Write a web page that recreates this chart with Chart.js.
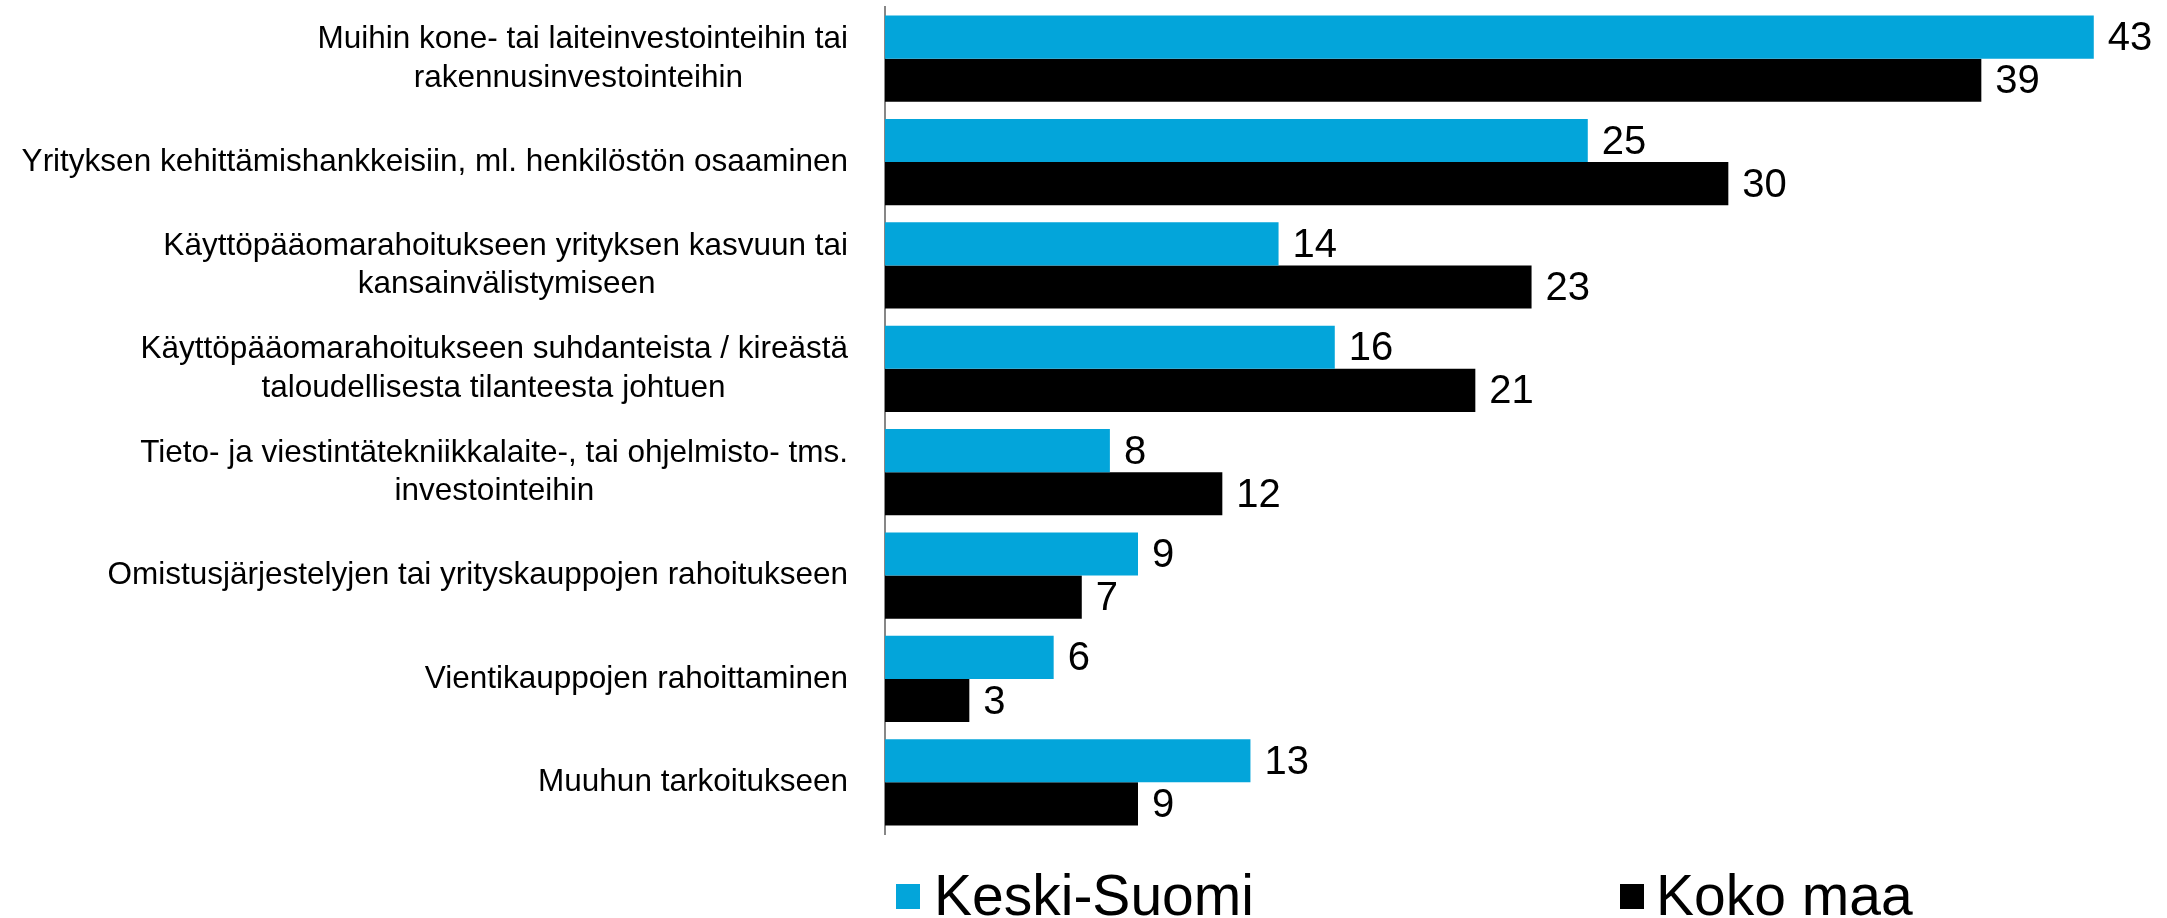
<!DOCTYPE html>
<html>
<head>
<meta charset="utf-8">
<script src="https://cdn.jsdelivr.net/npm/chart.js@4/dist/chart.umd.min.js"></script>
<style>
  body { margin: 0; background: #fff; }
  #wrap { position: relative; width: 2167px; height: 918px; font-family: "Liberation Sans", Arial, sans-serif; }
  .box { position: absolute; width: 24px; height: 25px; top: 884px; }
  .txt { position: absolute; top: 867px; font-size: 57px; line-height: 57px; color: #000; white-space: nowrap; }
</style>
</head>
<body>
<div id="wrap">
  <canvas id="chart" width="2167" height="918"></canvas>
  <div class="box" style="left:896px;background:#03a5da"></div>
  <div class="txt" style="left:934px">Keski-Suomi</div>
  <div class="box" style="left:1620px;background:#000"></div>
  <div class="txt" style="left:1656px">Koko maa</div>
</div>
<script>
const categories = [
    ['Muihin kone- tai laiteinvestointeihin tai', 'rakennusinvestointeihin'],
    'Yrityksen kehittämishankkeisiin, ml. henkilöstön osaaminen',
    ['Käyttöpääomarahoitukseen yrityksen kasvuun tai', 'kansainvälistymiseen'],
    ['Käyttöpääomarahoitukseen suhdanteista / kireästä', 'taloudellisesta tilanteesta johtuen'],
    ['Tieto- ja viestintätekniikkalaite-, tai ohjelmisto- tms.', 'investointeihin'],
    'Omistusjärjestelyjen tai yrityskauppojen rahoitukseen',
    'Vientikauppojen rahoittaminen',
    'Muuhun tarkoitukseen'
];
const keskiSuomi = [43, 25, 14, 16, 8, 9, 6, 13];
const kokoMaa = [39, 30, 23, 21, 12, 7, 3, 9];

const fontFamily = '"Liberation Sans", Arial, sans-serif';
const labelSize = 31.5;

// pad shorter lines so each wrapped label reads centred, like the original
function centerLines(lines) {
    if (!Array.isArray(lines)) return lines;
    const ctx = document.createElement('canvas').getContext('2d');
    ctx.font = labelSize + 'px ' + fontFamily;
    const widths = lines.map(l => ctx.measureText(l).width);
    const max = Math.max(...widths);
    const sp = ctx.measureText('\u00a0').width;
    return lines.map((l, i) => l + '\u00a0'.repeat(Math.round((max - widths[i]) / 2 / sp)));
}

// value labels at the end of each bar
const valueLabels = {
    id: 'valueLabels',
    afterDatasetsDraw(chart) {
        const ctx = chart.ctx;
        ctx.save();
        ctx.font = '40px ' + fontFamily;
        ctx.fillStyle = '#000';
        ctx.textAlign = 'left';
        ctx.textBaseline = 'middle';
        chart.data.datasets.forEach((ds, i) => {
            chart.getDatasetMeta(i).data.forEach((bar, j) => {
                ctx.fillText(ds.data[j], bar.x + 14, bar.y + 2);
            });
        });
        ctx.restore();
    }
};

const ctx = document.getElementById('chart').getContext('2d');
new Chart(ctx, {
    type: 'bar',
    data: {
        labels: categories.map(centerLines),
        datasets: [
            { label: 'Keski-Suomi', data: keskiSuomi, backgroundColor: '#03a5da' },
            { label: 'Koko maa', data: kokoMaa, backgroundColor: '#000000' }
        ]
    },
    options: {
        indexAxis: 'y',
        responsive: false,
        animation: false,
        devicePixelRatio: 1,
        layout: { padding: { top: 7, right: 17, bottom: 84, left: 0 } },
        datasets: { bar: { categoryPercentage: 0.835, barPercentage: 1 } },
        plugins: {
            legend: { display: false },
            tooltip: { enabled: false }
        },
        scales: {
            x: { display: false, min: 0, max: 45 },
            y: {
                grid: { display: false },
                border: { display: true, color: '#878787', width: 2 },
                ticks: {
                    color: '#000',
                    padding: 29,
                    font: { family: fontFamily, size: labelSize, lineHeight: 1.22 }
                },
                afterFit(scale) {
                    scale.width = 885;
                    scale.paddingTop = 0;
                    scale.paddingBottom = 0;
                }
            }
        }
    },
    plugins: [valueLabels]
});
</script>
</body>
</html>
